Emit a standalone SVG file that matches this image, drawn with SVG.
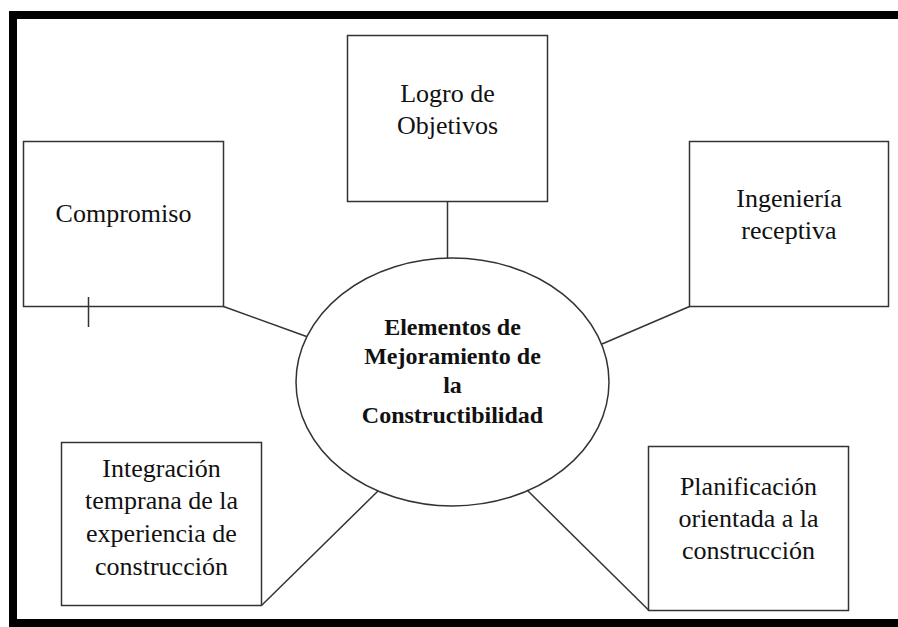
<svg xmlns="http://www.w3.org/2000/svg" width="898" height="627" viewBox="0 0 898 627">
<style>
.box{fill:#fff;stroke:#333;stroke-width:1.5}
.ln{stroke:#333;stroke-width:1.5;fill:none}
.t{font-family:"Liberation Serif","Times New Roman",serif;font-size:26px;fill:#111;text-anchor:middle}
.tb{font-family:"Liberation Serif","Times New Roman",serif;font-size:24px;font-weight:bold;fill:#111;text-anchor:middle}
</style>
<rect width="898" height="627" fill="#fff"/>
<g id="frame" fill="#000">
<rect x="9" y="11" width="889" height="8"/>
<rect x="9" y="11" width="8" height="616"/>
<rect x="9" y="619" width="889" height="8"/>
</g>
<g id="logro">
<rect class="box" x="347.5" y="35.5" width="200" height="166"/>
<text class="t" x="447.5" y="102">Logro de</text>
<text class="t" x="447.5" y="134">Objetivos</text>
</g>
<g id="compromiso">
<rect class="box" x="23.5" y="141.5" width="200" height="165"/>
<text class="t" x="123.5" y="222">Compromiso</text>
</g>
<g id="ingenieria">
<rect class="box" x="689.5" y="141.5" width="199" height="165"/>
<text class="t" x="789" y="207">Ingeniería</text>
<text class="t" x="789" y="239">receptiva</text>
</g>
<g id="centro">
<ellipse class="box" cx="452.5" cy="382" rx="156.5" ry="124"/>
<text class="tb" x="452.5" y="335">Elementos de</text>
<text class="tb" x="452.5" y="364">Mejoramiento de</text>
<text class="tb" x="452.5" y="393">la</text>
<text class="tb" x="452.5" y="423">Constructibilidad</text>
</g>
<g id="integracion">
<rect class="box" x="61.5" y="442.5" width="200" height="163"/>
<text class="t" x="161.5" y="477">Integración</text>
<text class="t" x="161.5" y="509">temprana de la</text>
<text class="t" x="161.5" y="542">experiencia de</text>
<text class="t" x="161.5" y="575">construcción</text>
</g>
<g id="planificacion">
<rect class="box" x="648.5" y="446.5" width="200" height="164"/>
<text class="t" x="748.5" y="495">Planificación</text>
<text class="t" x="748.5" y="527">orientada a la</text>
<text class="t" x="748.5" y="559">construcción</text>
</g>
<g id="connectors" class="ln">
<line x1="447.5" y1="201.5" x2="447.5" y2="258"/>
<line x1="223.5" y1="306.5" x2="306.5" y2="336.5"/>
<line x1="689.5" y1="306.5" x2="602" y2="344"/>
<line x1="378" y1="491" x2="262" y2="605"/>
<line x1="527" y1="490" x2="648.5" y2="610"/>
<line x1="88.5" y1="297" x2="88.5" y2="327"/>
</g>
</svg>
